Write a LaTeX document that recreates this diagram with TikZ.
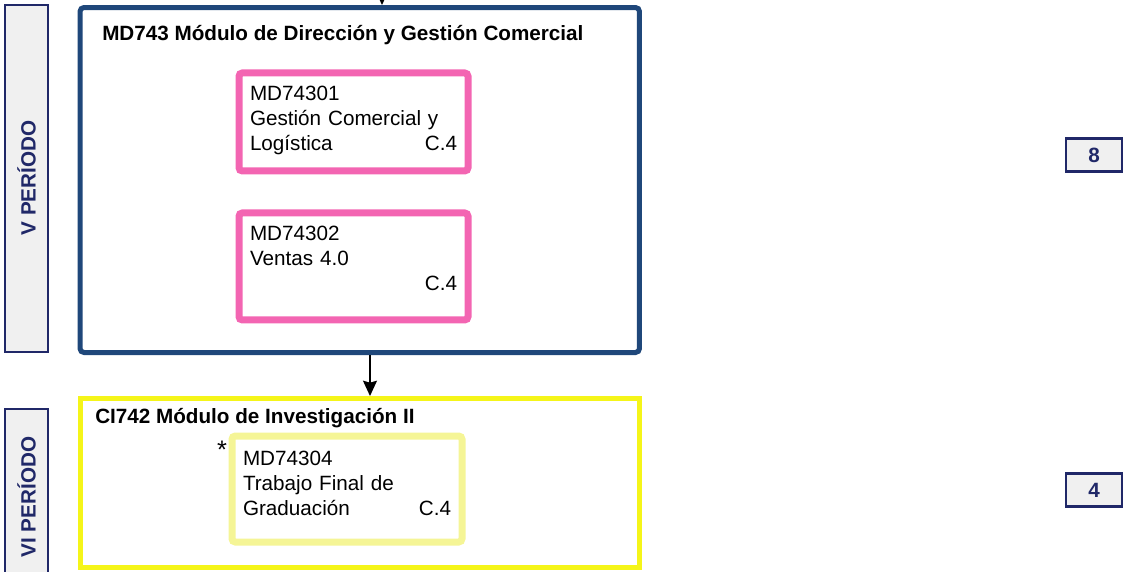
\documentclass[tikz,border=0pt]{standalone}
\usepackage{fontspec}
\setmainfont{Liberation Sans}
\usepackage{xcolor}
\usepackage{tikz}
\usetikzlibrary{arrows.meta,positioning}

\definecolor{navyper}{RGB}{32,40,104}
\definecolor{grisper}{RGB}{240,240,240}
\definecolor{azulmod}{RGB}{31,71,122}
\definecolor{rosacur}{RGB}{243,101,178}
\definecolor{amarmod}{RGB}{245,245,25}
\definecolor{amarcur}{RGB}{245,245,150}

\begin{document}
\begin{tikzpicture}[
            x=0.75pt, y=-0.75pt,
            font=\fontsize{15.5}{18.75}\selectfont,
            periodo/.style={rectangle, draw=navyper, fill=grisper, line width=1.5pt, rotate=90, minimum height=32.25pt, text=navyper, font=\fontsize{15.5}{18.75}\selectfont\bfseries},
            modulo/.style={rectangle, line width=3.75pt, inner sep=0pt},
            curso/.style={rectangle, rounded corners=2.5pt, line width=5.25pt, align=left, text width=155.25pt, inner xsep=8.25pt, inner ysep=0pt, outer sep=0pt, anchor=base west},
            titulo/.style={anchor=base west, inner sep=0pt, font=\fontsize{15.5}{18.75}\selectfont\bfseries},
            creditos/.style={rectangle, draw=navyper, fill=grisper, line width=1.9pt, minimum width=42pt, minimum height=24.75pt, inner sep=0pt, text=navyper, font=\fontsize{15.5}{18.75}\selectfont\bfseries},
            arrow/.style={->, >={Stealth[length=11.5pt,width=10.5pt,inset=1.5pt]}, line width=1.1pt}
        ]
        \useasboundingbox (0,0) rectangle (1123,571);
        
        % periodos
        \node[periodo, minimum width=260.25pt] (per5) at (26.5,178) {V PERÍODO};
        \node[periodo, minimum width=132pt] (per6) at (26.5,497) {VI PERÍODO};
        
        % modulos
        \node[modulo, draw=azulmod, rounded corners=3pt, minimum width=419.6pt, minimum height=258.75pt] (mdmod) at (359.75,180) {};
        \node[modulo, draw=amarmod, minimum width=419.25pt, minimum height=127.1pt] (cimod) at (359.5,483.25) {};
        
        \node[titulo] (mdtit) at (102,40) {MD743 Módulo de Dirección y Gestión Comercial};
        \node[titulo] (citit) at (95,423) {CI742 Módulo de Investigación II};
        
        % cursos
        \node[curso, draw=rosacur, text height=20.8pt, text depth=52.7pt] (gcl) at (239,100.7) {MD74301\\Gestión Comercial y\\Logística\hspace*{\fill}C.4};
        \node[curso, draw=rosacur, text height=21pt, text depth=59.25pt, below=31.5pt of gcl] (ven) {MD74302\\Ventas 4.0\\\hspace*{\fill}C.4\hspace*{10.5pt}};
        \node[curso, draw=amarcur, text width=156pt, text height=21.75pt, text depth=57.75pt] (tfg) at (232,465) {MD74304\\Trabajo Final de\\Graduación\hspace*{\fill}C.4\hspace*{3.2pt}};
        \node[anchor=base, inner sep=0pt, font=\fontsize{19}{20}\selectfont] (ast) at (222,458) {*};
        
        % creditos
        \node[creditos] (cred5) at (1094,155) {8};
        \node[creditos] (cred6) at (1094,490) {4};
        
        \coordinate (entra) at (382,-40);
        \coordinate (flecha) at (370,0);
        \draw[arrow] (entra) -- (entra |- mdmod.north);
        \draw[arrow] (mdmod.south -| flecha) -- (cimod.north -| flecha);
        
        \end{tikzpicture}
\end{document}
